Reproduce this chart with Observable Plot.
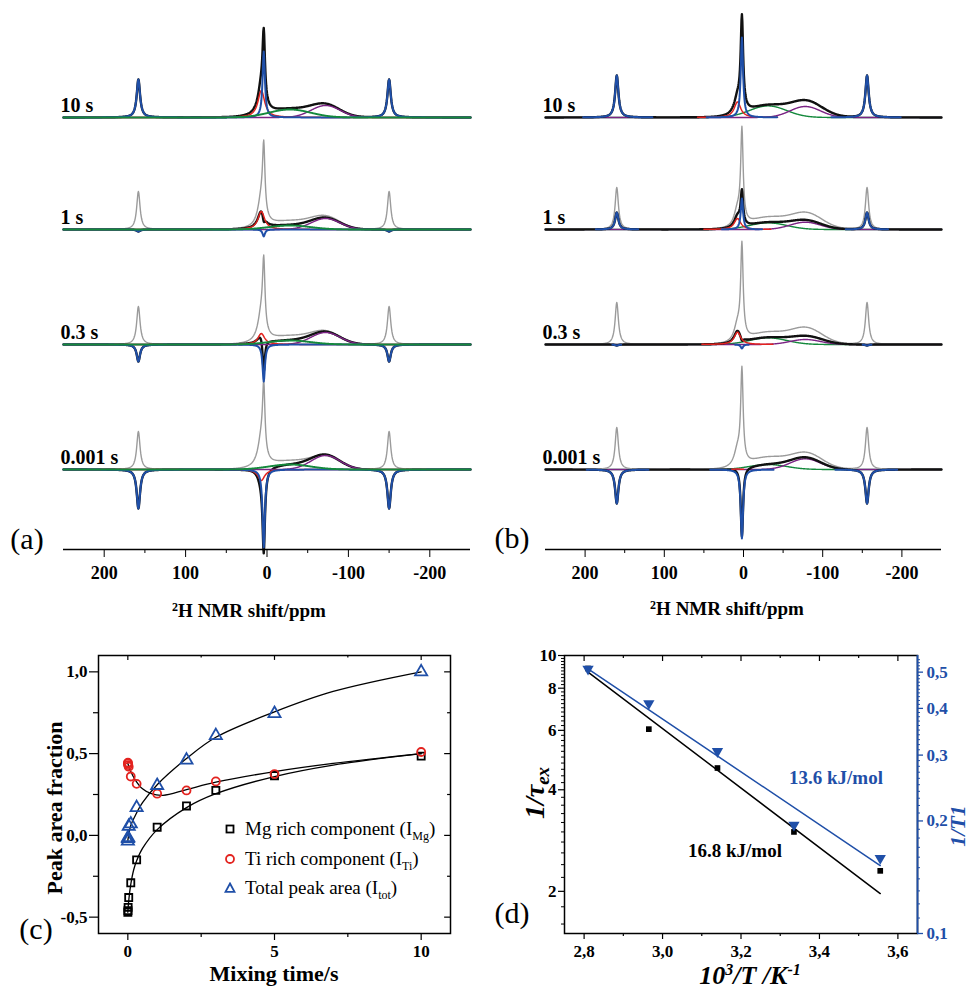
<!DOCTYPE html>
<html><head><meta charset="utf-8">
<script src="https://cdn.jsdelivr.net/npm/d3@7"></script>
<script src="https://cdn.jsdelivr.net/npm/@observablehq/plot@0.6"></script>
<style>
html,body{margin:0;padding:0;background:#fff;}
#fig{position:relative;width:969px;height:990px;overflow:hidden;font-family:"Liberation Serif","Times New Roman",serif;color:#000;}
#fig svg text{font-family:"Liberation Serif","Times New Roman",serif !important;}
.abs{position:absolute;white-space:nowrap;line-height:1;}
.c{transform:translate(-50%,-50%);}
.rot{transform:translate(-50%,-50%) rotate(-90deg);}
.pl{position:absolute;}
.b{font-weight:bold;}
.bi{font-weight:bold;font-style:italic;}
</style></head><body><div id="fig"></div>
<script>
// ================= DATA =================
const mixLabels = ["10 s", "1 s", "0.3 s", "0.001 s"];

// Panel (a): fitted component amplitudes per mixing time (10 s, 1 s, 0.3 s, 0.001 s)
const aBlueCenter = [66, -7, -37, -78];
const aBlueSideband = [38, -2, -17, -39];
const aRed = [27, 18, 11, -11];
const aGreen = [8, 4, 4, 5];
const aPurple = [12, 11, 12, 14];
const aExtraSharp = [0, 0, 0, 0];
const aExtraBroad = [0, 0, 0, 0];
// shifts (ppm): blue centre, sideband spacing, red, green, purple, extra broad
const aShifts = [4, 154, 7, -28, -72, -80];
// FWHM (ppm): blue centre, blue sidebands, red, green, purple, extra broad
const aWidths = [3.5, 5, 10, 60, 42, 50];

// Panel (b)
const bBlueCenter = [80, 31, -4, -69];
const bBlueSideband = [42, 17, -1, -34];
const bRed = [15.6, 11, 12.3, 0.5];
const bGreen = [11.6, 6.7, 6.7, 5];
const bPurple = [11, 7.3, 5, 10.7];
const bExtraSharp = [12, 2, 0, 0];
const bExtraBroad = [5, 1.5, 3, 1];
const bShifts = [2, 158, 7.6, -31, -78, -85];
const bWidths = [3.5, 5, 10, 55, 45, 50];

const nmrTicks = [200, 100, 0, -100, -200];
const nmrMinorTicks = [150, 50, -50, -150];

// Panel (c)
const mixTimes = [0.001, 0.005, 0.01, 0.03, 0.1, 0.3, 1, 2, 3, 5, 10];
const fracMg  = [-0.47, -0.46, -0.44, -0.38, -0.29, -0.15, 0.05, 0.18, 0.275, 0.365, 0.485];
const fracTi  = [0.44, 0.445, 0.43, 0.42, 0.36, 0.315, 0.255, 0.275, 0.33, 0.375, 0.51];
const fracTot = [-0.035, -0.02, -0.014, 0.055, 0.07, 0.17, 0.305, 0.46, 0.61, 0.745, 1.0];
const fitMgT = [0, 0.03, 0.1, 0.2, 0.3, 0.5, 1, 2, 3, 5, 7, 10];
const fitMgY = [-0.47, -0.4, -0.3, -0.21, -0.155, -0.08, 0.035, 0.17, 0.255, 0.36, 0.43, 0.5];
const fitTiT = [0, 0.1, 0.25, 0.5, 0.8, 1.2, 2, 3, 5, 7, 10];
const fitTiY = [0.44, 0.39, 0.34, 0.285, 0.255, 0.245, 0.28, 0.325, 0.39, 0.44, 0.5];
const fitTotT = [0, 0.1, 0.25, 0.5, 1, 2, 3, 5, 7, 10];
const fitTotY = [-0.03, 0.06, 0.12, 0.2, 0.31, 0.47, 0.6, 0.755, 0.88, 1.0];
const fracTicks = [-0.5, 0, 0.5, 1.0];
const fracMinor = [-0.25, 0.25, 0.75];
const timeTicks = [0, 5, 10];
const timeMinor = [2.5, 7.5];
const legendNames = ["Mg rich component (I", "Ti rich component (I", "Total peak area (I"];
const legendSubs = ["Mg", "Ti", "tot"];

// Panel (d)
const invT = [2.81, 2.965, 3.14, 3.335, 3.555];
const rateEx = [9.15, 6.05, 4.64, 3.0, 2.3];
const rateT1 = [0.51, 0.412, 0.307, 0.195, 0.159];
const fitInvT = [2.81, 3.555];
const fitEx = [8.93, 1.97];
const fitT1 = [0.51, 0.152];
const exTicks = [2, 4, 6, 8, 10];
const t1Ticks = [0.1, 0.2, 0.3, 0.4, 0.5];
const invTTicks = [2.8, 3.0, 3.2, 3.4, 3.6];
const invTMinor = [2.9, 3.1, 3.3, 3.5];
const energyLabels = ["13.6 kJ/mol", "16.8 kJ/mol"];

// ================= STYLE / LAYOUT =================
const COL = {blue: "#1f4fa8", red: "#e3231f", green: "#14893c", purple: "#7b2384", grey: "#9b9b9b", black: "#111111"};
const stackOffsets = [432, 320, 205, 80];
const fig = document.getElementById("fig");
const baseStyle = {fontFamily: "Liberation Serif", fontSize: "17px", fontWeight: "bold", background: "transparent", overflow: "visible"};

function place(node, left, top) {
  const d = document.createElement("div");
  d.className = "pl"; d.style.left = left + "px"; d.style.top = top + "px";
  d.appendChild(node); fig.appendChild(d);
}
function label(html, x, y, cls, css) {
  const d = document.createElement("div");
  d.className = "abs " + cls; d.style.left = x + "px"; d.style.top = y + "px";
  d.innerHTML = html; Object.assign(d.style, css || {}); fig.appendChild(d);
}

// line shapes
function lor(x, c, w) { const h = w / 2; return h * h / ((x - c) * (x - c) + h * h); }
function gau(x, c, w) { const s = w / 2.3548; return Math.exp(-(x - c) * (x - c) / (2 * s * s)); }
const ppmGrid = d3.range(250, -250.0001, -0.5);

function spectraRows(P) {
  const [cB, sb, cR, cG, cP, cX] = P.shifts;
  const [wB, wS, wR, wG, wP, wX] = P.widths;
  const rows = [];
  for (let i = 0; i < 4; i++) {
    for (const x of ppmGrid) {
      const blue = P.blueC[i] * lor(x, cB, wB) + P.blueS[i] * (lor(x, cB + sb, wS) + lor(x, cB - sb, wS));
      const red = P.red[i] * lor(x, cR, wR);
      const green = P.green[i] * gau(x, cG, wG);
      const purple = P.purple[i] * gau(x, cP, wP);
      const extra = P.xS[i] * lor(x, cB, wB * 1.6) + P.xB[i] * gau(x, cX, wX);
      rows.push({i, x, blue, red, green, purple, black: blue + red + green + purple + extra});
    }
  }
  const n = ppmGrid.length;
  for (let i = 1; i < 4; i++) for (let k = 0; k < n; k++) rows[i * n + k].grey = rows[k].black;
  return rows;
}

function spectraPlot(P, m) {
  const rows = spectraRows(P);
  const lower = rows.filter(d => d.i > 0);
  // components listed in m.trim are only drawn where they rise off the baseline
  const ly = key => d => (m.trim.includes(key) && Math.abs(d[key]) < 0.15) ? NaN : stackOffsets[d.i] + d[key];
  const comp = {
    grey: Plot.line(lower, {x: "x", y: ly("grey"), z: "i", stroke: COL.grey, strokeWidth: 1.4}),
    black: Plot.line(rows, {x: "x", y: ly("black"), z: "i", stroke: COL.black, strokeWidth: 2.4}),
    purple: Plot.line(rows, {x: "x", y: ly("purple"), z: "i", stroke: COL.purple, strokeWidth: 1.4}),
    red: Plot.line(rows, {x: "x", y: ly("red"), z: "i", stroke: COL.red, strokeWidth: 1.5}),
    blue: Plot.line(rows, {x: "x", y: ly("blue"), z: "i", stroke: COL.blue, strokeWidth: 2.0}),
    green: Plot.line(rows, {x: "x", y: ly("green"), z: "i", stroke: COL.green, strokeWidth: m.greenWidth})
  };
  return Plot.plot({
    width: m.width, height: 625, marginLeft: m.left, marginRight: m.right, marginTop: 0, marginBottom: 76,
    x: {domain: [250, -250], axis: null, label: null},
    y: {domain: [0, 549], axis: null, label: null},
    style: baseStyle,
    marks: [
      ...m.order.map(k => comp[k]),
      Plot.ruleY([0], {stroke: "black", strokeWidth: 1.6}),
      Plot.axisX(nmrTicks, {tickSize: 8, tickPadding: 9, tickFormat: d => String(d), label: null, fontSize: 18}),
      Plot.axisX(nmrMinorTicks, {tickSize: 4, tickFormat: () => "", label: null}),
      Plot.text(mixLabels, {x: () => 250, y: (d, i) => stackOffsets[i], dx: -3, dy: -6,
        textAnchor: "start", lineAnchor: "bottom", fontSize: 20, fontWeight: "bold"})
    ]
  });
}

// ---------- panel (a) ----------
place(spectraPlot({blueC: aBlueCenter, blueS: aBlueSideband, red: aRed, green: aGreen, purple: aPurple,
  xS: aExtraSharp, xB: aExtraBroad, shifts: aShifts, widths: aWidths},
  {width: 485, left: 63, right: 15, greenWidth: 1.9, trim: [], order: ["grey", "black", "purple", "red", "blue", "green"]}), 0, 0);
// ---------- panel (b) ----------
place(spectraPlot({blueC: bBlueCenter, blueS: bBlueSideband, red: bRed, green: bGreen, purple: bPurple,
  xS: bExtraSharp, xB: bExtraBroad, shifts: bShifts, widths: bWidths},
  {width: 484, left: 60, right: 28, greenWidth: 1.4, trim: ["red", "blue"], order: ["green", "purple", "grey", "black", "red", "blue"]}), 485, 0);

// ---------- panel (c) ----------
const commaFmt = d => d.toFixed(1).replace(".", ",");
const pts = (xs, ys) => xs.map((x, k) => ({x, y: ys[k]}));
const plotC = Plot.plot({
  width: 485, height: 370, marginLeft: 98, marginRight: 35, marginTop: 35, marginBottom: 57,
  x: {domain: [-1, 11], axis: null, label: null},
  y: {domain: [-0.6, 1.1], axis: null, label: null},
  style: {...baseStyle, fontSize: "17px"},
  marks: [
    Plot.frame({stroke: "black", strokeWidth: 1.5}),
    Plot.axisY(fracTicks, {tickSize: 9, tickPadding: 2, tickFormat: commaFmt, label: null, strokeWidth: 1.2}),
    Plot.axisY(fracMinor, {tickSize: 5, tickFormat: () => "", label: null, strokeWidth: 1.2}),
    Plot.axisX(timeTicks, {tickSize: 7, tickPadding: 4, tickFormat: d => String(d), label: null, strokeWidth: 1.2}),
    Plot.axisX(timeMinor, {tickSize: 4, tickFormat: () => "", label: null, strokeWidth: 1.2}),
    Plot.ruleY(fracTicks, {y: d => d, x1: 11, x2: 10.8, strokeWidth: 1.2}),
    Plot.ruleY(fracMinor, {y: d => d, x1: 11, x2: 10.9, strokeWidth: 1.2}),
    Plot.ruleX(timeTicks, {x: d => d, y1: 1.1, y2: 1.07, strokeWidth: 1.2}),
    Plot.ruleX(timeMinor, {x: d => d, y1: 1.1, y2: 1.085, strokeWidth: 1.2}),
    Plot.line(pts(fitTotT, fitTotY), {x: "x", y: "y", curve: "catmull-rom", stroke: "black", strokeWidth: 1.3}),
    Plot.line(pts(fitTiT, fitTiY), {x: "x", y: "y", curve: "catmull-rom", stroke: "black", strokeWidth: 1.3}),
    Plot.line(pts(fitMgT, fitMgY), {x: "x", y: "y", curve: "catmull-rom", stroke: "black", strokeWidth: 1.3}),
    Plot.dot(mixTimes, {x: d => d, y: (d, k) => fracMg[k], symbol: "square", r: 4, stroke: "black", fill: "none", strokeWidth: 1.8}),
    Plot.dot(mixTimes, {x: d => d, y: (d, k) => fracTi[k], symbol: "circle", r: 4, stroke: COL.red, fill: "none", strokeWidth: 1.8}),
    Plot.dot(mixTimes, {x: d => d, y: (d, k) => fracTot[k], symbol: "triangle", r: 4.5, stroke: COL.blue, fill: "none", strokeWidth: 1.8})
  ]
});
place(plotC, 0, 620);

// ---------- panel (d) ----------
const L0 = Math.log10(1.5), L1 = 1, R0 = Math.log10(0.1), R1 = Math.log10(0.554);
const toLeft = v => Math.pow(10, L0 + (Math.log10(v) - R0) / (R1 - R0) * (L1 - L0));
const exMinor = d3.range(16, 100, 2).map(v => v / 10).filter(v => !exTicks.includes(v));
const t1Minor = d3.range(11, 55, 1).map(v => v / 100).filter(v => !t1Ticks.some(t => Math.abs(t - v) < 1e-9));
const xRight = 3.65, pxX = 0.9 / 353; // data units per pixel along x
const plotD = Plot.plot({
  width: 484, height: 370, marginLeft: 79, marginRight: 52, marginTop: 35, marginBottom: 57,
  x: {domain: [2.75, xRight], axis: null, label: null},
  y: {type: "log", domain: [1.5, 10], axis: null, label: null},
  style: {...baseStyle, fontSize: "17px"},
  marks: [
    Plot.frame({stroke: "black", strokeWidth: 1.5}),
    Plot.ruleX([xRight], {stroke: COL.blue, strokeWidth: 1.8}),
    Plot.axisY(exTicks, {tickSize: 6, tickPadding: 2, tickFormat: d => String(d), label: null, strokeWidth: 1.2}),
    Plot.axisY(exMinor, {tickSize: 3, tickFormat: () => "", label: null, strokeWidth: 1}),
    // right-hand 1/T1 axis (blue), mapped onto the same log scale
    Plot.ruleY(t1Ticks, {y: d => toLeft(d), x1: xRight, x2: xRight + 6 * pxX, stroke: COL.blue, strokeWidth: 1.3}),
    Plot.ruleY(t1Minor, {y: d => toLeft(d), x1: xRight, x2: xRight + 3 * pxX, stroke: COL.blue, strokeWidth: 1}),
    Plot.text(t1Ticks, {y: d => toLeft(d), x: () => xRight, dx: 9, textAnchor: "start",
      text: d => d.toFixed(1).replace(".", ","), fill: COL.blue, fontWeight: "bold"}),
    Plot.axisX(invTTicks, {tickSize: 6, tickPadding: 5, tickFormat: d => d.toFixed(1).replace(".", ","), label: null, strokeWidth: 1.2}),
    Plot.axisX(invTMinor, {tickSize: 3, tickFormat: () => "", label: null, strokeWidth: 1.2}),
    Plot.ruleX(invTTicks, {x: d => d, y1: 10, y2: Math.pow(10, 1 - 6 / 338.6), strokeWidth: 1.2}),
    Plot.ruleX(invTMinor, {x: d => d, y1: 10, y2: Math.pow(10, 1 - 3 / 338.6), strokeWidth: 1.2}),
    Plot.line(pts(fitInvT, fitEx), {x: "x", y: "y", stroke: "black", strokeWidth: 1.5}),
    Plot.line(pts(fitInvT, fitT1.map(toLeft)), {x: "x", y: "y", stroke: COL.blue, strokeWidth: 1.5}),
    Plot.dot(invT, {x: d => d, y: (d, k) => rateEx[k], symbol: "square", r: 3.2, fill: "black", stroke: "none"}),
    Plot.dot(invT, {x: d => d, y: (d, k) => toLeft(rateT1[k]), symbol: "triangle", rotate: 180, r: 4.2, fill: COL.blue, stroke: "none"})
  ]
});
place(plotD, 485, 620);

// ---------- text labels ----------
label("(a)", 27, 539, "c", {fontSize: "30px"});
label("(b)", 512, 538, "c", {fontSize: "30px"});
label("(c)", 36, 929, "c", {fontSize: "30px"});
label("(d)", 512, 913, "c", {fontSize: "30px"});
label("<sup style='font-size:12px;vertical-align:6px'>2</sup>H NMR shift/ppm", 249, 610, "c b", {fontSize: "19px"});
label("<sup style='font-size:12px;vertical-align:6px'>2</sup>H NMR shift/ppm", 727, 608, "c b", {fontSize: "19px"});
label("Peak area fraction", 55, 808, "rot b", {fontSize: "22px"});
label("Mixing time/s", 274, 974, "c b", {fontSize: "22px"});
label("1/τ<sub style='font-size:19px;vertical-align:-5px'>ex</sub>", 536, 793, "rot bi", {fontSize: "28px"});
label("1/T1", 958, 826, "rot bi", {fontSize: "22px", color: COL.blue});
label("10<sup style='font-size:16px;vertical-align:9px'>3</sup>/T /K<sup style='font-size:16px;vertical-align:9px'>-1</sup>", 750, 975, "c bi", {fontSize: "26px"});
label(energyLabels[0], 836, 777, "c b", {fontSize: "19px", color: COL.blue});
label(energyLabels[1], 735, 850, "c b", {fontSize: "19px"});

// legend of panel (c)
const legendSym = [
  "<rect x='2.5' y='2.5' width='7' height='7' fill='none' stroke='black' stroke-width='1.8'/>",
  "<circle cx='6' cy='6' r='4' fill='none' stroke='" + COL.red + "' stroke-width='1.8'/>",
  "<path d='M6 1.5 L10.5 9.8 L1.5 9.8 Z' fill='none' stroke='" + COL.blue + "' stroke-width='1.8'/>"
];
const legendY = [830, 860, 889];
legendNames.forEach((name, k) => {
  label("<svg width='12' height='12'>" + legendSym[k] + "</svg>", 230, legendY[k], "c", {});
  label(name + "<sub style='font-size:12px;vertical-align:-5px'>" + legendSubs[k] + "</sub>)", 245, legendY[k] - 11, "", {fontSize: "19px"});
});
</script></body></html>
